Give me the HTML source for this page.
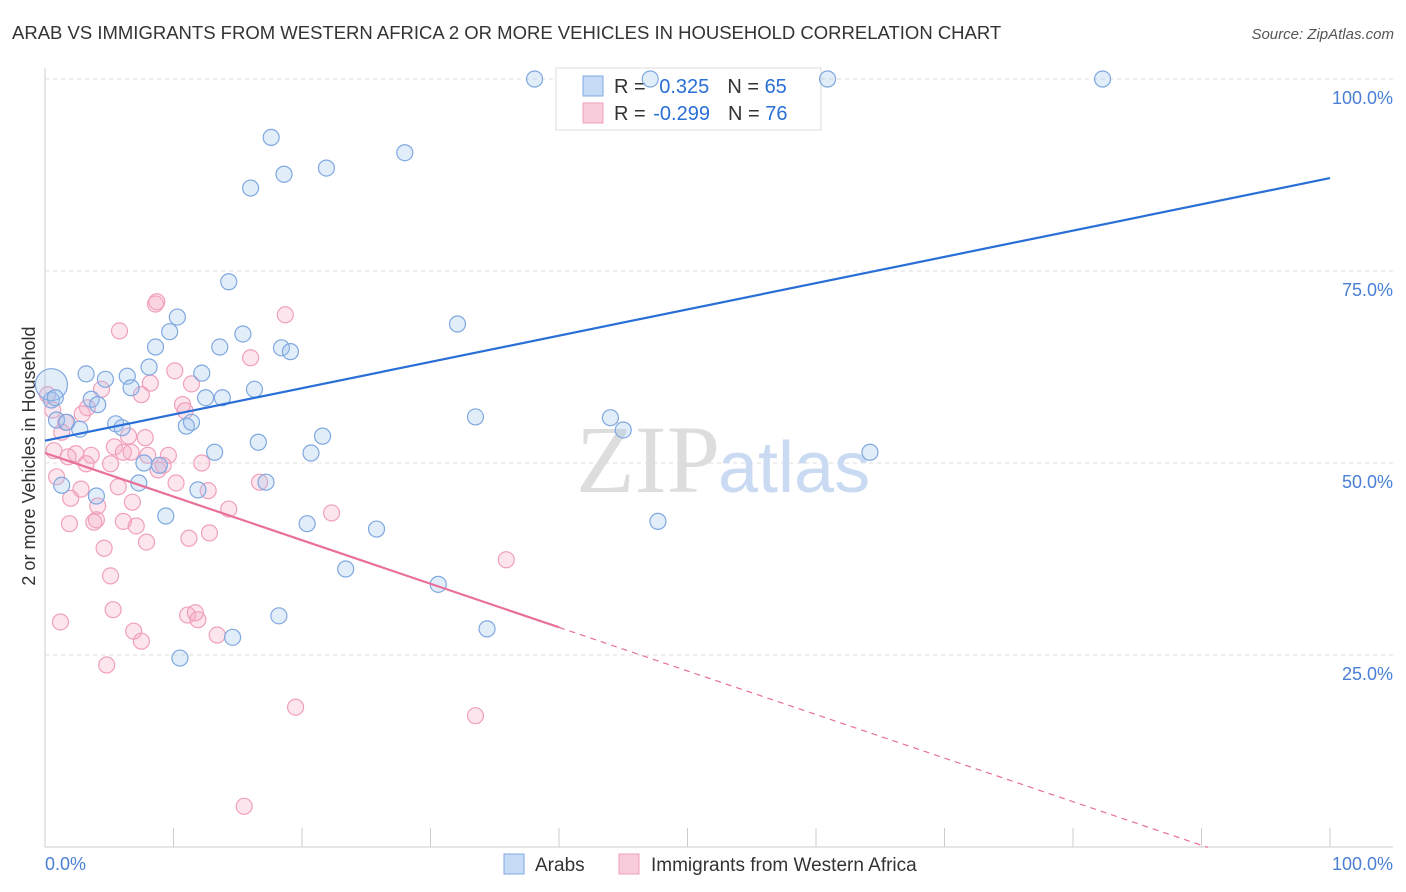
<!DOCTYPE html>
<html><head><meta charset="utf-8"><style>
body{margin:0;background:#fff;font-family:"Liberation Sans",sans-serif;}
svg{display:block}
</style></head><body>
<svg id="chart" width="1406" height="892">
<text x="12" y="39" font-size="18.5" fill="#333">ARAB VS IMMIGRANTS FROM WESTERN AFRICA 2 OR MORE VEHICLES IN HOUSEHOLD CORRELATION CHART</text>
<text x="1394" y="39" font-size="15" fill="#555" font-style="italic" text-anchor="end">Source: ZipAtlas.com</text>
<text x="35" y="456" font-size="18" fill="#333" text-anchor="middle" transform="rotate(-90 35 456)">2 or more Vehicles in Household</text>
<g id="grid"></g>
<text x="720" y="492" font-size="96" fill="#ddd" text-anchor="end" font-family="Liberation Serif,serif">ZIP</text>
<text x="718" y="492" font-size="72" fill="#c9daf2">atlas</text>
<g>
<rect x="556" y="68" width="265" height="62" fill="#fff" stroke="#ddd"/>
<rect x="583" y="76" width="20" height="20" fill="rgba(160,196,240,0.6)" stroke="#7fa8e0"/>
<rect x="583" y="103" width="20" height="20" fill="rgba(245,170,195,0.6)" stroke="#f0a0bb"/>
<text x="614" y="93" font-size="20" fill="#333">R = <tspan dx="8" fill="#2a6fd6">0.325</tspan><tspan dx="18">N = </tspan><tspan fill="#2a6fd6">65</tspan></text>
<text x="614" y="120" font-size="20" fill="#333">R = <tspan dx="2" fill="#2a6fd6">-0.299</tspan><tspan dx="18">N = </tspan><tspan fill="#2a6fd6">76</tspan></text>
</g>
<g id="points"></g>
<g id="lines"></g>
<g>
<rect x="504" y="854" width="20" height="20" fill="rgba(160,196,240,0.6)" stroke="#7fa8e0"/>
<text x="535" y="871" font-size="19" fill="#333">Arabs</text>
<rect x="619" y="854" width="20" height="20" fill="rgba(245,170,195,0.6)" stroke="#f0a0bb"/>
<text x="651" y="871" font-size="19" fill="#333">Immigrants from Western Africa</text>
</g>
</svg>
<script>
const xTicks=[0,10,20,30,40,50,60,70,80,90,100];
const yTicks=[25,50,75,100];
const yTickLabels=["25.0%","50.0%","75.0%","100.0%"];
const xEndLabels=["0.0%","100.0%"];
const arabX=[38.1,47.1,60.9,82.3,17.6,28.0,18.6,21.9,16.0,14.3,10.3,9.7,32.1,8.6,13.6,15.4,18.4,19.1,8.1,3.2,6.4,12.2,4.7,6.7,16.3,12.5,13.8,3.6,4.1,0.5,0.9,1.7,5.5,6.0,2.7,11.0,11.4,33.5,44.0,45.0,21.6,16.6,13.2,20.7,64.2,7.7,8.9,7.3,1.3,11.9,17.2,4.0,9.4,20.4,25.8,47.7,23.4,30.6,18.2,34.4,14.6,10.5,0.5,0.8];
const arabY=[100,100,100,100,92.4,90.4,87.6,88.4,85.8,73.6,69.0,67.1,68.1,65.1,65.1,66.8,65.0,64.5,62.5,61.6,61.3,61.7,60.9,59.8,59.6,58.5,58.5,58.3,57.6,58.2,55.6,55.3,55.1,54.6,54.4,54.8,55.3,56.0,55.9,54.3,53.5,52.7,51.4,51.3,51.4,50.0,49.7,47.4,47.1,46.5,47.5,45.7,43.1,42.1,41.4,42.4,36.2,34.2,30.1,28.4,27.3,24.6,60.2,58.5];
const immX=[8.6,8.7,18.7,5.8,16.0,10.1,8.2,11.4,4.4,7.5,0.2,0.6,3.3,10.7,10.9,2.9,1.6,1.3,6.5,7.8,5.4,6.1,6.7,8.0,9.6,2.4,3.6,0.7,1.8,3.2,5.1,9.2,12.2,8.8,10.2,5.7,16.7,12.7,2.8,0.9,2.0,6.8,4.1,14.3,22.3,4.0,6.1,1.9,3.8,7.1,12.8,11.2,7.9,4.6,35.9,5.1,5.3,11.1,11.7,11.9,1.2,6.9,7.5,13.4,4.8,19.5,33.5,15.5];
const immY=[70.7,71.0,69.3,67.2,63.7,62.0,60.4,60.3,59.6,58.9,58.9,56.9,57.2,57.6,56.8,56.4,55.3,54.0,53.5,53.3,52.1,51.4,51.4,51.0,51.0,51.2,51.0,51.6,50.8,49.9,49.9,49.7,50.0,49.1,47.4,46.9,47.5,46.4,46.6,48.2,45.4,44.9,44.4,44.0,43.5,42.6,42.4,42.1,42.3,41.8,40.9,40.2,39.7,38.9,37.4,35.3,30.9,30.2,30.5,29.6,29.3,28.1,26.8,27.6,23.7,18.2,17.1,5.3];
const arabTrend=[52.9,87.1];
const immTrend=[51.3,28.6];
const immTrendSolidEnd=40, immTrendDashEnd=90.5;

const NS="http://www.w3.org/2000/svg";
const xS=v=>45+v*12.85, yS=v=>847-v*7.68;
function mk(tag,attrs,parent){const e=document.createElementNS(NS,tag);for(const k in attrs)e.setAttribute(k,attrs[k]);parent.appendChild(e);return e;}
const grid=document.getElementById('grid');
const xa=mk('line',{x1:45,y1:847,x2:1393,y2:847,stroke:'#ccc'},grid);


const ya=mk('line',{x1:45,y1:68,x2:45,y2:847,stroke:'#ccc'},grid);


xTicks.forEach(t=>{const l=mk('line',{x1:xS(t),y1:828,x2:xS(t),y2:847,stroke:'#ccc'},grid);

});
yTicks.forEach((t,i)=>{const l=mk('line',{x1:45,y1:yS(t),x2:1393,y2:yS(t),stroke:'#ddd','stroke-dasharray':'4,4'},grid);


const tx=mk('text',{x:1393,y:yS(t)+25,'font-size':18,fill:'#4a7fd4','text-anchor':'end'},grid);tx.textContent=yTickLabels[i];

});
[0,100].forEach((t,i)=>{const tx=mk('text',{x:i?1393:45,y:870,'font-size':18,fill:'#4a7fd4','text-anchor':i?'end':'start'},grid);tx.textContent=xEndLabels[i];

});
const pts=document.getElementById('points');
immX.forEach((x,i)=>{const c=mk('circle',{cx:xS(x),cy:yS(immY[i]),r:8,fill:'rgba(245,170,195,0.3)',stroke:'#f0a0bb','stroke-width':1.2},pts);

});
arabX.forEach((x,i)=>{const c=mk('circle',{cx:xS(x),cy:yS(arabY[i]),r:i==62?16:8,fill:'rgba(160,196,240,0.3)',stroke:'#7fa8e0','stroke-width':1.2},pts);

});
const lines=document.getElementById('lines');
const bl=mk('line',{x1:xS(0),y1:yS(arabTrend[0]),x2:xS(100),y2:yS(arabTrend[1]),stroke:'#2a6fd6','stroke-width':2.2},lines);


const im=v=>immTrend[0]+(immTrend[1]-immTrend[0])*v/immTrendSolidEnd;
const pl=mk('line',{x1:xS(0),y1:yS(im(0)),x2:xS(immTrendSolidEnd),y2:yS(im(immTrendSolidEnd)),stroke:'#e8709a','stroke-width':2.2},lines);


const pd=mk('line',{x1:xS(immTrendSolidEnd),y1:yS(im(immTrendSolidEnd)),x2:xS(immTrendDashEnd),y2:yS(im(immTrendDashEnd)),stroke:'#e8709a','stroke-width':1.2,'stroke-dasharray':'6,5'},lines);


</script>
</body></html>
